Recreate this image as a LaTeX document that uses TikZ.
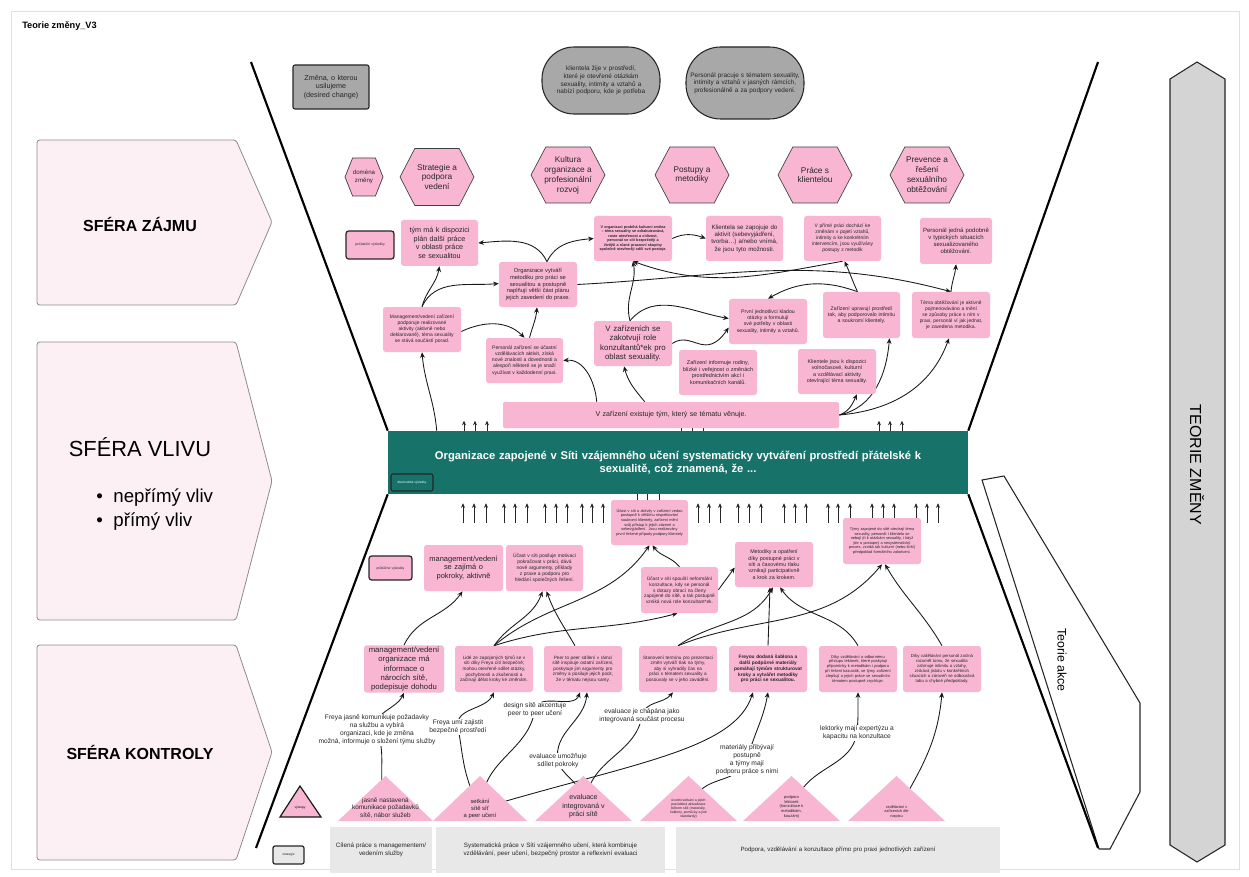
\documentclass[tikz,border=0pt]{standalone}
\usepackage{fontspec}
\setmainfont{Liberation Sans}
\usetikzlibrary{arrows.meta,calc}
\pgfdeclarelayer{back}\pgfdeclarelayer{mid}
\pgfsetlayers{back,mid,main}
\hyphenpenalty=10000
\exhyphenpenalty=10000
\definecolor{pk}{HTML}{F8B6D2}
\definecolor{pkl}{HTML}{FDF0F5}
\definecolor{gr}{HTML}{A8A8A8}
\definecolor{grl}{HTML}{E8E8E8}
\definecolor{teal1}{HTML}{17736A}
\newcommand{\myfs}[1]{\fontsize{#1}{\fpeval{1.2*#1}}\selectfont}
\newcommand{\mybox}[7]{%
  \pgfmathsetmacro{\myBW}{(#4-#2)*0.75}%
  \pgfmathsetmacro{\myBH}{(#5-#3)*0.75}%
  \pgfmathsetmacro{\myTW}{(#4-#2-6)*0.75}%
  \node[pbox,minimum width=\myBW pt,minimum height=\myBH pt,text width=\myTW pt,#6] (#1) at ({(#2+#4)/2},{(#3+#5)/2}) {#7};%
}
\newcommand{\myhex}[7]{% name,cx,cy,a,b,fontsize,text
  \filldraw[fill=pk,draw=black!75,line width=0.5pt] (#2-#4,#3) -- (#2-0.6*#4,#3-#5) -- (#2+0.6*#4,#3-#5) -- (#2+#4,#3) -- (#2+0.6*#4,#3+#5) -- (#2-0.6*#4,#3+#5) -- cycle;
  \node[align=center,font=\myfs{#6},text=black!85,inner sep=0pt] (#1) at (#2,#3) {#7};%
}
\newcommand{\mytri}[7]{% name,xleft,xright,apex y,base y,fontsize,text
  \fill[pk] (#2,#5) -- ({(#2+#3)/2},#4) -- (#3,#5) -- cycle;
  \node[align=center,anchor=south,inner sep=1pt,text=black!85,font=\myfs{#6}] (#1) at ({(#2+#3)/2},#5-1) {#7};%
}
\tikzset{
  pbox/.style={fill=pk,rounded corners=2pt,align=center,inner xsep=2.25pt,inner ysep=1pt,text=black!85},
  lgd/.style={draw=black!85,line width=0.9pt},
  arr/.style={-{Stealth[length=4.2pt,width=3.6pt]},line width=0.65pt,black!90},
  arrs/.style={-{Stealth[length=3.4pt,width=3pt]},line width=0.7pt,black!85},
  lbl/.style={fill=white,align=center,inner sep=0.6pt,font=\myfs{5},text=black!85},
}
\begin{document}
\begin{tikzpicture}[x=0.75pt,y=-0.75pt]
\useasboundingbox (0,0) rectangle (1249,877);

% ---------- title and side labels ----------
\node[anchor=west,font=\bfseries\myfs{6.9},inner sep=0pt] (title) at (22,26) {Teorie změny\_V3};
\node[font=\bfseries\myfs{12}] (sz) at (140,224) {SFÉRA ZÁJMU};
\node[font=\myfs{16.4}] (sv) at (140,447) {SFÉRA VLIVU};
\node[font=\myfs{14},anchor=west,inner sep=0pt] (sv1) at (96,498) {•\hspace{8pt}nepřímý vliv};
\node[font=\myfs{14},anchor=west,inner sep=0pt] (sv2) at (96,522) {•\hspace{8pt}přímý vliv};
\node[font=\bfseries\myfs{12}] (sk) at (140,752) {SFÉRA KONTROLY};
\node[font=\myfs{12},rotate=-90] (tz) at (1197,465) {TEORIE ZMĚNY};
\node[font=\myfs{9.3},rotate=-90] (ta) at (1062,660) {Teorie akce};

% ---------- top ----------
\mybox{desired}{293}{65}{369}{109}{fill=gr,draw=black!85,line width=0.8pt,rounded corners=1.5pt,font=\myfs{5.4}}{Změna, o kterou\\usilujeme\\(desired change)}
\mybox{st1}{545}{47}{657}{114}{fill=gr,draw=black!85,line width=0.8pt,rounded corners=24pt,font=\myfs{4.8},text width=84pt}{klientela žije v prostředí, které je otevřené otázkám sexuality, intimity a vztahů a nabízí podporu, kde je potřeba}
\mybox{st2}{688}{47}{802}{119}{fill=gr,draw=black!85,line width=0.8pt,rounded corners=26pt,font=\myfs{4.8},text width=84pt}{Personál pracuje s tématem sexuality, intimity a vztahů v jasných rámcích, profesionálně a za podpory vedení.}

\myhex{hxD}{364}{177}{19}{19}{4.6}{doména\\změny}
\myhex{hx1}{437}{177}{37}{28.5}{6.2}{Strategie a\\podpora\\vedení}
\myhex{hx2}{568}{175}{37}{28}{6.2}{Kultura\\organizace a\\profesionální\\rozvoj}
\myhex{hx3}{692}{175}{37}{28}{6.2}{Postupy a\\metodiky}
\myhex{hx4}{815}{175}{37}{28}{6.2}{Práce s\\klientelou}
\myhex{hx5}{927}{175}{37}{28}{6.2}{Prevence a\\řešení\\sexuálního\\obtěžování}

% ---------- initial outcomes ----------
\mybox{lgdPV}{346}{231}{394}{259}{lgd,font=\myfs{2.6}}{počáteční výsledky}
\mybox{nA}{401}{220}{478}{266}{font=\myfs{5.4}}{tým má k dispozici plán další práce v oblasti práce se sexualitou}
\mybox{nB}{594}{216}{672}{261}{font=\bfseries\myfs{2.8}}{V organizaci probíhá kulturní změna – téma sexuality se odtabuizovává, roste otevřenost a citlivost, personál se cítí bezpečněji a živější a různé pracovní skupiny společně otevřeněji sdílí své postoje.}
\mybox{nC}{706}{216}{783}{261}{font=\myfs{4.6}}{Klientela se zapojuje do aktivit (sebevyjádření, tvorba…) a/nebo vnímá, že jsou tyto možnosti.}
\mybox{nD}{804}{216}{881}{261}{font=\myfs{3.7}}{V přímé práci dochází ke změnám v pojetí vztahů, intimity a ke konkrétním intervencím, jsou využívány postupy z metodik}
\mybox{nE}{920}{218}{992}{264}{font=\myfs{4.5}}{Personál jedná podobně v typických situacích sexualizovaného obtěžování.}
\mybox{nF}{499}{262}{577}{307}{font=\myfs{4.3}}{Organizace vytváří metodiku pro práci se sexualitou a postupně naplňují větší část plánu jejich zavedení do praxe.}
\mybox{nG}{383}{307}{461}{352}{font=\myfs{3.7}}{Management/vedení zařízení podporuje realizované aktivity (aktivně nebo deklarovaně), téma sexuality se stává součástí porad.}
\mybox{nH}{486}{338}{563}{383}{font=\myfs{3.8}}{Personál zařízení se účastní vzdělávacích aktivit, získá nové znalosti a dovednosti a alespoň některé se je snaží využívat v každodenní praxi.}
\mybox{nI}{594}{321}{672}{366}{font=\myfs{5.9}}{V zařízeních se zakotvují role konzultantů*ek pro oblast sexuality.}
\mybox{nJ}{729}{299}{807}{344}{font=\myfs{3.9}}{První jednotlivci kladou otázky a formulují své potřeby v oblasti sexuality, intimity a vztahů.}
\mybox{nK}{823}{292}{900}{338}{font=\myfs{3.9}}{Zařízení upravují prostředí tak, aby podporovalo intimitu a soukromí klientely.}
\mybox{nL}{912}{292}{990}{338}{font=\myfs{3.7}}{Téma obtěžování je aktivně pojmenováváno a mění se způsoby práce s ním v praxi, personál ví jak jednat, je zavedena metodika.}
\mybox{nM}{679}{350}{757}{395}{font=\myfs{4.1}}{Zařízení informuje rodiny, blízké i veřejnost o změnách prostřednictvím akcí i komunikačních kanálů.}
\mybox{nN}{798}{349}{876}{394}{font=\myfs{4.0}}{Klientele jsou k dispozici volnočasové, kulturní a vzdělávací aktivity otevírající téma sexuality.}
\mybox{nO}{503}{402}{839}{428}{font=\myfs{5.3},rounded corners=1pt}{V zařízení existuje tým, který se tématu věnuje.}

% ---------- teal impact ----------
\mybox{teal}{388}{431}{968}{494}{fill=teal1,text=white,rounded corners=0pt,font=\bfseries\myfs{8.4}}{Organizace zapojené v Síti vzájemného učení systematicky vytváření prostředí přátelské k\\sexualitě, což znamená, že ...}
\mybox{lgdTeal}{391}{474}{433}{491}{lgd,fill=teal1,text=white,font=\myfs{2.3},line width=0.8pt,rounded corners=1.5pt}{dlouhodobé výsledky}

% ---------- intermediate outcomes ----------
\mybox{lgdIV}{369}{556}{412}{580}{lgd,font=\myfs{2.5}}{průběžné výsledky}
\mybox{nP}{424}{545}{503}{591}{font=\myfs{5.6}}{management/vedení se zajímá o pokroky, aktivně}
\mybox{nQ}{506}{545}{583}{591}{font=\myfs{3.7}}{Účast v síti posiluje motivaci pokračovat v práci, dává nové argumenty, příklady z praxe a podporu pro hledání společných řešení.}
\mybox{nR}{611}{500}{688}{545}{font=\myfs{2.9}}{Účast v síti a aktivity v zařízení vedou postupně k většímu respektování soukromí klientely, zařízení mění svůj přístup k jejich zázemí a sebevyjádření. Jsou realizovány první řešené případy podpory klientely}
\mybox{nS}{641}{567}{718}{613}{font=\myfs{3.6}}{Účast v síti spouští neformální konzultace, kdy se personál s dotazy obrací na členy zapojené do sítě, a tak postupně vzniká nová role konzultant*ek.}
\mybox{nT}{735}{542}{813}{587}{font=\myfs{4.0}}{Metodiky a opatření díky postupné práci v síti a časovému tlaku vznikají participativně a krok za krokem.}
\mybox{nU}{843}{518}{921}{564}{font=\myfs{2.9}}{Týmy zapojené do sítě otevírají téma sexuality, personál i klientela se nebojí jít k otázkám sexuality, i když jde o postupný a nesystematický proces, vzniká tak kulturní (nebo širší) předpoklad formálního zakotvení.}

% ---------- early changes ----------
\mybox{nV}{364}{646}{444}{692}{font=\myfs{5.8}}{management/vedení organizace má informace o nárocích sítě, podepisuje dohodu}
\mybox{nW}{455}{646}{533}{692}{font=\myfs{3.5}}{Lidé ze zapojených týmů se v síti díky Freya cítí bezpečně; mohou otevřeně sdílet otázky, pochybnosti a zkušenosti a začínají dělat kroky ke změnám.}
\mybox{nX}{544}{646}{622}{692}{font=\myfs{3.5}}{Peer to peer sdílení v rámci sítě inspiruje ostatní zařízení, poskytuje jim argumenty pro změny a posiluje jejich pocit, že v tématu nejsou samy.}
\mybox{nY}{639}{646}{717}{692}{font=\myfs{3.5}}{Stanovení termínu pro prezentaci změn vytváří tlak na týmy, aby si vyhradily čas na práci s tématem sexuality a posouvaly se v jeho zavádění.}
\mybox{nZ}{729}{646}{807}{692}{font=\bfseries\myfs{3.6}}{Freyou dodaná šablona a další podpůrné materiály pomáhají týmům strukturovat kroky a vytvářet metodiky pro práci se sexualitou.}
\mybox{nAA}{819}{646}{897}{692}{font=\myfs{3.0}}{Díky vzdělávání a odbornému přístupu lektorek, které poskytují připomínky k metodikám i podporu při řešení kazuistik, se týmy zařízení zlepšují a jejich práce se sexuálním tématem postupně zrychluje.}
\mybox{nAB}{903}{646}{981}{692}{font=\myfs{3.2}}{Díky vzdělávání personál začíná rozumět tomu, že sexualita zahrnuje intimitu a vztahy, získává jistotu v konkrétních situacích a zároveň se odbourává tabu a chybné předpoklady.}

% ---------- edge labels ----------
\node[lbl] (l1) at (377,730) {Freya jasně komunikuje požadavky\\na službu a vybírá\\organizaci, kde je změna\\možná, informuje o složení týmu služby};
\node[lbl] (l2) at (458,727) {Freya umí zajistit\\bezpečné prostředí};
\node[lbl] (l3) at (535,710) {design sítě akcentuje\\peer to peer učení};
\node[lbl] (l4) at (642,716) {evaluace je chápána jako\\integrovaná součást procesu};
\node[lbl] (l5) at (558,761) {evaluace umožňuje\\sdílet pokroky};
\node[lbl] (l6) at (747,760) {materiály přibývají\\postupně\\a týmy mají\\podporu práce s nimi};
\node[lbl] (l7) at (857,733) {lektorky mají expertýzu a\\kapacitu na konzultace};

% ---------- outputs (triangles) ----------
\filldraw[fill=pk,draw=black!90,line width=0.9pt] (280,817) -- (300,786) -- (321,817) -- cycle;
\node[font=\myfs{2.4},align=center,inner sep=0pt] (lgdOut) at (300,808) {výstupy};
\mytri{nT1}{338}{433}{776}{821}{4.8}{jasně nastavená\\komunikace požadavků\\sítě, nábor služeb}
\mytri{nT2}{433}{527}{776}{821}{4.4}{setkání\\sítě síť\\a peer učení}
\mytri{nT3}{535}{632}{776}{821}{5.3}{evaluace\\integrovaná v\\práci sítě}
\mytri{nT4}{640}{737}{776}{821}{2.6}{úvodní setkání a jejich\\pravidelná aktualizace\\během sítě (materiály,\\šablony, pomůcky a jiné\\standardy)}
\mytri{nT5}{743}{840}{776}{821}{3.0}{podpora\\lektorek\\(konzultace k\\metodikám,\\kauzám)}
\mytri{nT6}{848}{945}{776}{821}{2.9}{vzdělávání v\\zařízeních dle\\rozpisu}

% ---------- activities (grey) ----------
\mybox{lgdAct}{273}{846}{304}{864}{lgd,fill=grl,font=\myfs{2.4},rounded corners=1.5pt}{strategie}
\mybox{g1}{330}{827}{432}{873}{fill=grl,rounded corners=0pt,font=\myfs{4.7}}{Cílená práce s managementem/ vedením služby}
\mybox{g2}{436}{827}{665}{873}{fill=grl,rounded corners=0pt,font=\myfs{4.7}}{Systematická práce v Síti vzájemného učení, která kombinuje vzdělávání, peer učení, bezpečný prostor a reflexivní evaluaci}
\mybox{g3}{676}{827}{1000}{873}{fill=grl,rounded corners=0pt,font=\myfs{4.6}}{Podpora, vzdělávání a konzultace přímo pro praxi jednotlivých zařízení}

% ---------- background shapes ----------
\begin{pgfonlayer}{back}
\fill[white] (0,0) rectangle (1249,877);
\draw[black!12,line width=0.6pt] (11,11) rectangle (1239,869);
\filldraw[fill=pkl,draw=black!45,line width=0.6pt,rounded corners=2pt] (37,140) -- (236,140) -- (272,222) -- (236,305) -- (37,305) -- cycle;
\filldraw[fill=pkl,draw=black!45,line width=0.6pt,rounded corners=2pt] (37,342) -- (236,342) -- (272,481) -- (236,620) -- (37,620) -- cycle;
\filldraw[fill=pkl,draw=black!45,line width=0.6pt,rounded corners=2pt] (37,645) -- (236,645) -- (272,752) -- (236,860) -- (37,860) -- cycle;
\filldraw[fill=black!17,draw=black!85,line width=0.8pt] (1170,79) -- (1197,62) -- (1225,79) -- (1225,845) -- (1197,862) -- (1170,845) -- cycle;
\filldraw[fill=white,draw=black!85,line width=0.8pt] (982,480) -- (1004,476) -- (1140,703) -- (1140,792) -- (1110,849) -- (1099,849) -- cycle;
\draw[line width=1.6pt] (251,62) -- (teal.north west);
\draw[line width=1.6pt] (1098,62) -- (teal.north east);
\draw[line width=1.6pt] (teal.south west) -- (256,848);
\draw[line width=1.6pt] (teal.south east) -- (1098,848);
\end{pgfonlayer}

% ---------- connectors ----------
\begin{pgfonlayer}{mid}
% upper
\draw[arr] ($(teal.north west)+(49,0)$) to[out=95,in=-85] (nG.south);
\draw[arr] (nG.north) to[out=75,in=-100] (nA.south);
\draw[arr] (nG.north) to[out=65,in=185] ($(nF.west)+(0,-1)$);
\draw[arr] ($(nG.east)+(0,2)$) to[out=25,in=135] (nH.north);
\draw[arr] ($(nH.north)+(5,0)$) to[out=75,in=-95] ($(nF.south)+(-1,0)$);
\draw[arr] ($(nF.north)+(9,0)$) to[out=115,in=5] (nA.east);
\draw[arr] ($(nF.north)+(9,0)$) to[out=65,in=185] (nB.west);
\draw[arr] ($(nO.north west)+(94,0)$) to[out=95,in=5] (nH.east);
\draw[arr] ($(nO.north west)+(142,0)$) to[out=130,in=-75] ($(nI.south)+(-9,0)$);
\draw[arr] ($(nI.north)+(-3,0)$) to[out=105,in=-80] (nB.south);
\draw[arr] ($(nI.north)+(-3,0)$) to[out=50,in=170] ($(nJ.west)+(0,-3)$);
\draw[arr] (nI.east) .. controls (692,330) and (705,362) .. ($(nJ.west)+(0,6)$);
\draw[arr] ($(nK.north)+(-4,0)$) to[out=160,in=30] (nJ.north);
\draw[arr] ($(nK.north)+(-4,0)$) to[out=115,in=-65] ($(nD.south)+(2,0)$);
\draw[arr] ($(nD.south)+(0,0)$) to[out=190,in=-20] (nB.south);
\draw[arr] (nF.east) to[out=3,in=165] (nL.north);
\draw[arr] (nL.north) to[out=85,in=-95] (nE.south);
\draw[arr] (nB.east) to[out=25,in=160] (nC.west);
\draw[arr] (nO.east) to[out=20,in=-115] ($(nN.south)+(20,0)$);
\draw[arr] (nO.east) to[out=12,in=-95] ($(nK.south)+(28,0)$);
\draw[arr] (nO.east) to[out=5,in=-110] ($(nL.south)+(-2,0)$);
\foreach \xx in {464,475,487,681,692,703,879,890,902}
  \draw[arrs] (\xx,0 |- teal.north) -- ++(0,-10);
% middle
\foreach \xx in {463,474,486,504,515,527,545,556,567,582,592,603,698,709,720,738,749,761,784,795,806,828,838,850,872,883,894,916,927,938}
  \draw[arrs] (\xx,523) -- ($(\xx,0 |- teal.south)+(0,9)$);
\foreach \xx in {637,647,659}
  \draw[line width=0.7pt,black!85] (\xx,0 |- nR.north) -- (\xx,0 |- teal.south);
% lower: intermediate
\draw[arr] (nV.north) to[out=65,in=-125] ($(nP.south)+(-1,0)$);
\draw[arr] (nW.north) to[out=55,in=-110] ($(nQ.south)+(-2,0)$);
\draw[arr] ($(nX.north)+(-8,0)$) to[out=120,in=-70] ($(nQ.south)+(2,0)$);
\draw[arr] (nW.north) to[out=40,in=-125] (nR.south);
\draw[arr] (nS.north) to[out=130,in=-55] ($(nR.south)+(3,0)$);
\draw[arr] (nW.north) to[out=18,in=195] ($(nS.south)+(-2,0)$);
\draw[arr] (nS.east) -- ($(nT.west)+(0,3)$);
\draw[arr] (nY.north) to[out=35,in=-120] ($(nT.south)+(-1,0)$);
\draw[arr] (nY.north) to[out=22,in=-130] (nU.south);
\draw[arr] (nZ.north) -- ($(nT.south)+(-4,0)$);
\draw[arr] (nAA.north) to[out=120,in=-55] ($(nT.south)+(6,0)$);
\draw[arr] (nAB.north) to[out=120,in=-60] ($(nU.south)+(3,0)$);
% lower: outputs to early changes
\draw[arr] (nT1) to[out=100,in=-70] (l1.center) to[out=110,in=-115] (nV.south);
\draw[arr] (nT2) to[out=115,in=-80] (l2.center) to[out=100,in=-115] (nW.south);
\draw[arr] (nT2) to[out=80,in=-100] (l3.center) to[out=80,in=-110] ($(nX.south)+(-3,0)$);
\draw[arr] (nT2) .. controls (640,762) and (735,748) .. ($(nZ.south)+(-15,0)$);
\draw[arr] (nT3) to[out=105,in=-75] (l5.center) to[out=100,in=-95] ($(nX.south)+(4,0)$);
\draw[arr] (nT3) to[out=75,in=-100] (l4.center) to[out=80,in=-130] ($(nY.south)+(-5,0)$);
\draw[arr] (nT4) to[out=60,in=-110] (l6.center) to[out=75,in=-100] (nZ.south);
\draw[arr] (nT5) to[out=60,in=-100] (l7.center) to[out=85,in=-90] (nAA.south);
\draw[arr] (nT6) to[out=60,in=-95] (nAB.south);
\end{pgfonlayer}
\end{tikzpicture}
\end{document}
